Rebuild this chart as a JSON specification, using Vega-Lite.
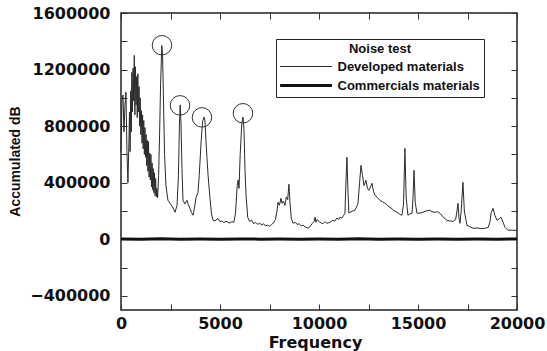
{
  "$schema": "https://vega.github.io/schema/vega-lite/v6.json",
  "width": 396,
  "height": 297,
  "autosize": "none",
  "padding": {"left": 121, "top": 13, "right": 30, "bottom": 41},
  "background": "white",
  "config": {
    "view": {"stroke": "#222", "strokeWidth": 1.5},
    "axis": {
      "grid": false,
      "domain": false,
      "labelFont": "DejaVu Sans",
      "labelFontWeight": "bold",
      "labelFontSize": 16,
      "labelColor": "#111",
      "titleFontWeight": "bold",
      "titleColor": "#111",
      "tickColor": "#333",
      "tickWidth": 1
    },
    "legend": {
      "orient": "none",
      "legendX": 155,
      "legendY": 26,
      "titleAnchor": "middle",
      "titleFont": "Liberation Sans",
      "titleFontSize": 13,
      "titleFontWeight": "bold",
      "titleColor": "#111",
      "titlePadding": 3,
      "labelFont": "Liberation Sans",
      "labelFontSize": 13,
      "labelFontWeight": "bold",
      "labelColor": "#111",
      "labelLimit": 300,
      "labelOffset": 23,
      "symbolType": "M-3.7,0H3.7",
      "symbolSize": 196,
      "symbolOffset": 17.5,
      "symbolStrokeColor": "#111",
      "rowPadding": 3,
      "padding": 4,
      "strokeColor": "#222",
      "fillColor": "white"
    }
  },
  "datasets": {
    "curves": [
      {"f": 0, "v": 620000, "series": "Developed materials"},
      {"f": 50, "v": 980000, "series": "Developed materials"},
      {"f": 100, "v": 1020000, "series": "Developed materials"},
      {"f": 150, "v": 760000, "series": "Developed materials"},
      {"f": 200, "v": 950000, "series": "Developed materials"},
      {"f": 250, "v": 1040000, "series": "Developed materials"},
      {"f": 300, "v": 620000, "series": "Developed materials"},
      {"f": 350, "v": 400000, "series": "Developed materials"},
      {"f": 400, "v": 680000, "series": "Developed materials"},
      {"f": 430, "v": 900000, "series": "Developed materials"},
      {"f": 460, "v": 620000, "series": "Developed materials"},
      {"f": 490, "v": 1050000, "series": "Developed materials"},
      {"f": 520, "v": 760000, "series": "Developed materials"},
      {"f": 550, "v": 1180000, "series": "Developed materials"},
      {"f": 580, "v": 900000, "series": "Developed materials"},
      {"f": 610, "v": 1210000, "series": "Developed materials"},
      {"f": 640, "v": 980000, "series": "Developed materials"},
      {"f": 670, "v": 1300000, "series": "Developed materials"},
      {"f": 700, "v": 880000, "series": "Developed materials"},
      {"f": 730, "v": 1220000, "series": "Developed materials"},
      {"f": 760, "v": 950000, "series": "Developed materials"},
      {"f": 790, "v": 1150000, "series": "Developed materials"},
      {"f": 820, "v": 860000, "series": "Developed materials"},
      {"f": 850, "v": 1170000, "series": "Developed materials"},
      {"f": 880, "v": 900000, "series": "Developed materials"},
      {"f": 910, "v": 1080000, "series": "Developed materials"},
      {"f": 940, "v": 800000, "series": "Developed materials"},
      {"f": 970, "v": 1000000, "series": "Developed materials"},
      {"f": 1000, "v": 740000, "series": "Developed materials"},
      {"f": 1030, "v": 910000, "series": "Developed materials"},
      {"f": 1060, "v": 680000, "series": "Developed materials"},
      {"f": 1090, "v": 880000, "series": "Developed materials"},
      {"f": 1120, "v": 640000, "series": "Developed materials"},
      {"f": 1150, "v": 840000, "series": "Developed materials"},
      {"f": 1180, "v": 600000, "series": "Developed materials"},
      {"f": 1210, "v": 790000, "series": "Developed materials"},
      {"f": 1240, "v": 580000, "series": "Developed materials"},
      {"f": 1270, "v": 740000, "series": "Developed materials"},
      {"f": 1300, "v": 520000, "series": "Developed materials"},
      {"f": 1330, "v": 700000, "series": "Developed materials"},
      {"f": 1360, "v": 480000, "series": "Developed materials"},
      {"f": 1390, "v": 690000, "series": "Developed materials"},
      {"f": 1420, "v": 440000, "series": "Developed materials"},
      {"f": 1450, "v": 610000, "series": "Developed materials"},
      {"f": 1480, "v": 420000, "series": "Developed materials"},
      {"f": 1510, "v": 600000, "series": "Developed materials"},
      {"f": 1540, "v": 370000, "series": "Developed materials"},
      {"f": 1570, "v": 540000, "series": "Developed materials"},
      {"f": 1600, "v": 350000, "series": "Developed materials"},
      {"f": 1630, "v": 500000, "series": "Developed materials"},
      {"f": 1660, "v": 330000, "series": "Developed materials"},
      {"f": 1690, "v": 470000, "series": "Developed materials"},
      {"f": 1720, "v": 310000, "series": "Developed materials"},
      {"f": 1750, "v": 430000, "series": "Developed materials"},
      {"f": 1780, "v": 300000, "series": "Developed materials"},
      {"f": 1810, "v": 360000, "series": "Developed materials"},
      {"f": 1850, "v": 295000, "series": "Developed materials"},
      {"f": 1900, "v": 450000, "series": "Developed materials"},
      {"f": 1950, "v": 750000, "series": "Developed materials"},
      {"f": 2000, "v": 1100000, "series": "Developed materials"},
      {"f": 2060, "v": 1370000, "series": "Developed materials"},
      {"f": 2100, "v": 1300000, "series": "Developed materials"},
      {"f": 2150, "v": 950000, "series": "Developed materials"},
      {"f": 2200, "v": 600000, "series": "Developed materials"},
      {"f": 2270, "v": 380000, "series": "Developed materials"},
      {"f": 2370, "v": 276000, "series": "Developed materials"},
      {"f": 2500, "v": 250000, "series": "Developed materials"},
      {"f": 2600, "v": 230000, "series": "Developed materials"},
      {"f": 2730, "v": 191000, "series": "Developed materials"},
      {"f": 2830, "v": 240000, "series": "Developed materials"},
      {"f": 2900, "v": 450000, "series": "Developed materials"},
      {"f": 2950, "v": 800000, "series": "Developed materials"},
      {"f": 2990, "v": 950000, "series": "Developed materials"},
      {"f": 3030, "v": 820000, "series": "Developed materials"},
      {"f": 3080, "v": 500000, "series": "Developed materials"},
      {"f": 3130, "v": 276000, "series": "Developed materials"},
      {"f": 3230, "v": 250000, "series": "Developed materials"},
      {"f": 3330, "v": 276000, "series": "Developed materials"},
      {"f": 3400, "v": 245000, "series": "Developed materials"},
      {"f": 3480, "v": 219000, "series": "Developed materials"},
      {"f": 3560, "v": 190000, "series": "Developed materials"},
      {"f": 3640, "v": 170000, "series": "Developed materials"},
      {"f": 3720, "v": 230000, "series": "Developed materials"},
      {"f": 3790, "v": 297000, "series": "Developed materials"},
      {"f": 3890, "v": 332000, "series": "Developed materials"},
      {"f": 3950, "v": 450000, "series": "Developed materials"},
      {"f": 4050, "v": 700000, "series": "Developed materials"},
      {"f": 4120, "v": 830000, "series": "Developed materials"},
      {"f": 4190, "v": 864000, "series": "Developed materials"},
      {"f": 4240, "v": 840000, "series": "Developed materials"},
      {"f": 4290, "v": 700000, "series": "Developed materials"},
      {"f": 4340, "v": 580000, "series": "Developed materials"},
      {"f": 4400, "v": 450000, "series": "Developed materials"},
      {"f": 4490, "v": 297000, "series": "Developed materials"},
      {"f": 4570, "v": 180000, "series": "Developed materials"},
      {"f": 4650, "v": 134000, "series": "Developed materials"},
      {"f": 4750, "v": 130000, "series": "Developed materials"},
      {"f": 4900, "v": 148000, "series": "Developed materials"},
      {"f": 5000, "v": 125000, "series": "Developed materials"},
      {"f": 5100, "v": 130000, "series": "Developed materials"},
      {"f": 5200, "v": 118000, "series": "Developed materials"},
      {"f": 5300, "v": 128000, "series": "Developed materials"},
      {"f": 5400, "v": 120000, "series": "Developed materials"},
      {"f": 5500, "v": 115000, "series": "Developed materials"},
      {"f": 5600, "v": 125000, "series": "Developed materials"},
      {"f": 5700, "v": 120000, "series": "Developed materials"},
      {"f": 5780, "v": 180000, "series": "Developed materials"},
      {"f": 5870, "v": 380000, "series": "Developed materials"},
      {"f": 5920, "v": 420000, "series": "Developed materials"},
      {"f": 5960, "v": 360000, "series": "Developed materials"},
      {"f": 6020, "v": 600000, "series": "Developed materials"},
      {"f": 6100, "v": 820000, "series": "Developed materials"},
      {"f": 6160, "v": 864000, "series": "Developed materials"},
      {"f": 6210, "v": 780000, "series": "Developed materials"},
      {"f": 6260, "v": 500000, "series": "Developed materials"},
      {"f": 6320, "v": 300000, "series": "Developed materials"},
      {"f": 6400, "v": 156000, "series": "Developed materials"},
      {"f": 6500, "v": 125000, "series": "Developed materials"},
      {"f": 6600, "v": 135000, "series": "Developed materials"},
      {"f": 6700, "v": 110000, "series": "Developed materials"},
      {"f": 6800, "v": 120000, "series": "Developed materials"},
      {"f": 6900, "v": 105000, "series": "Developed materials"},
      {"f": 7000, "v": 115000, "series": "Developed materials"},
      {"f": 7100, "v": 100000, "series": "Developed materials"},
      {"f": 7200, "v": 110000, "series": "Developed materials"},
      {"f": 7300, "v": 95000, "series": "Developed materials"},
      {"f": 7400, "v": 100000, "series": "Developed materials"},
      {"f": 7500, "v": 92000, "series": "Developed materials"},
      {"f": 7600, "v": 105000, "series": "Developed materials"},
      {"f": 7700, "v": 115000, "series": "Developed materials"},
      {"f": 7800, "v": 140000, "series": "Developed materials"},
      {"f": 7880, "v": 200000, "series": "Developed materials"},
      {"f": 7930, "v": 262000, "series": "Developed materials"},
      {"f": 8000, "v": 240000, "series": "Developed materials"},
      {"f": 8080, "v": 290000, "series": "Developed materials"},
      {"f": 8130, "v": 255000, "series": "Developed materials"},
      {"f": 8200, "v": 270000, "series": "Developed materials"},
      {"f": 8280, "v": 240000, "series": "Developed materials"},
      {"f": 8350, "v": 300000, "series": "Developed materials"},
      {"f": 8420, "v": 280000, "series": "Developed materials"},
      {"f": 8480, "v": 389000, "series": "Developed materials"},
      {"f": 8540, "v": 250000, "series": "Developed materials"},
      {"f": 8600, "v": 150000, "series": "Developed materials"},
      {"f": 8690, "v": 113000, "series": "Developed materials"},
      {"f": 8800, "v": 120000, "series": "Developed materials"},
      {"f": 8900, "v": 105000, "series": "Developed materials"},
      {"f": 9000, "v": 110000, "series": "Developed materials"},
      {"f": 9100, "v": 95000, "series": "Developed materials"},
      {"f": 9200, "v": 100000, "series": "Developed materials"},
      {"f": 9300, "v": 88000, "series": "Developed materials"},
      {"f": 9450, "v": 78000, "series": "Developed materials"},
      {"f": 9550, "v": 90000, "series": "Developed materials"},
      {"f": 9650, "v": 110000, "series": "Developed materials"},
      {"f": 9750, "v": 125000, "series": "Developed materials"},
      {"f": 9800, "v": 156000, "series": "Developed materials"},
      {"f": 9850, "v": 120000, "series": "Developed materials"},
      {"f": 9900, "v": 140000, "series": "Developed materials"},
      {"f": 10050, "v": 120000, "series": "Developed materials"},
      {"f": 10200, "v": 110000, "series": "Developed materials"},
      {"f": 10300, "v": 125000, "series": "Developed materials"},
      {"f": 10400, "v": 113000, "series": "Developed materials"},
      {"f": 10550, "v": 120000, "series": "Developed materials"},
      {"f": 10700, "v": 134000, "series": "Developed materials"},
      {"f": 10800, "v": 128000, "series": "Developed materials"},
      {"f": 10900, "v": 150000, "series": "Developed materials"},
      {"f": 11000, "v": 140000, "series": "Developed materials"},
      {"f": 11060, "v": 156000, "series": "Developed materials"},
      {"f": 11150, "v": 150000, "series": "Developed materials"},
      {"f": 11250, "v": 170000, "series": "Developed materials"},
      {"f": 11310, "v": 184000, "series": "Developed materials"},
      {"f": 11360, "v": 400000, "series": "Developed materials"},
      {"f": 11410, "v": 580000, "series": "Developed materials"},
      {"f": 11460, "v": 350000, "series": "Developed materials"},
      {"f": 11510, "v": 184000, "series": "Developed materials"},
      {"f": 11560, "v": 190000, "series": "Developed materials"},
      {"f": 11700, "v": 200000, "series": "Developed materials"},
      {"f": 11810, "v": 205000, "series": "Developed materials"},
      {"f": 11900, "v": 230000, "series": "Developed materials"},
      {"f": 11970, "v": 255000, "series": "Developed materials"},
      {"f": 12050, "v": 400000, "series": "Developed materials"},
      {"f": 12120, "v": 523000, "series": "Developed materials"},
      {"f": 12200, "v": 450000, "series": "Developed materials"},
      {"f": 12270, "v": 380000, "series": "Developed materials"},
      {"f": 12320, "v": 396000, "series": "Developed materials"},
      {"f": 12370, "v": 417000, "series": "Developed materials"},
      {"f": 12450, "v": 360000, "series": "Developed materials"},
      {"f": 12520, "v": 346000, "series": "Developed materials"},
      {"f": 12600, "v": 370000, "series": "Developed materials"},
      {"f": 12680, "v": 396000, "series": "Developed materials"},
      {"f": 12750, "v": 340000, "series": "Developed materials"},
      {"f": 12830, "v": 311000, "series": "Developed materials"},
      {"f": 12950, "v": 295000, "series": "Developed materials"},
      {"f": 13080, "v": 276000, "series": "Developed materials"},
      {"f": 13200, "v": 265000, "series": "Developed materials"},
      {"f": 13330, "v": 255000, "series": "Developed materials"},
      {"f": 13450, "v": 240000, "series": "Developed materials"},
      {"f": 13580, "v": 226000, "series": "Developed materials"},
      {"f": 13700, "v": 215000, "series": "Developed materials"},
      {"f": 13800, "v": 200000, "series": "Developed materials"},
      {"f": 13940, "v": 191000, "series": "Developed materials"},
      {"f": 14100, "v": 175000, "series": "Developed materials"},
      {"f": 14190, "v": 170000, "series": "Developed materials"},
      {"f": 14270, "v": 250000, "series": "Developed materials"},
      {"f": 14340, "v": 643000, "series": "Developed materials"},
      {"f": 14400, "v": 300000, "series": "Developed materials"},
      {"f": 14490, "v": 170000, "series": "Developed materials"},
      {"f": 14600, "v": 180000, "series": "Developed materials"},
      {"f": 14700, "v": 184000, "series": "Developed materials"},
      {"f": 14750, "v": 300000, "series": "Developed materials"},
      {"f": 14800, "v": 488000, "series": "Developed materials"},
      {"f": 14860, "v": 260000, "series": "Developed materials"},
      {"f": 14950, "v": 184000, "series": "Developed materials"},
      {"f": 15100, "v": 185000, "series": "Developed materials"},
      {"f": 15250, "v": 191000, "series": "Developed materials"},
      {"f": 15400, "v": 200000, "series": "Developed materials"},
      {"f": 15600, "v": 205000, "series": "Developed materials"},
      {"f": 15700, "v": 195000, "series": "Developed materials"},
      {"f": 15860, "v": 191000, "series": "Developed materials"},
      {"f": 16000, "v": 195000, "series": "Developed materials"},
      {"f": 16110, "v": 184000, "series": "Developed materials"},
      {"f": 16250, "v": 160000, "series": "Developed materials"},
      {"f": 16460, "v": 134000, "series": "Developed materials"},
      {"f": 16600, "v": 130000, "series": "Developed materials"},
      {"f": 16770, "v": 127000, "series": "Developed materials"},
      {"f": 16900, "v": 140000, "series": "Developed materials"},
      {"f": 16970, "v": 200000, "series": "Developed materials"},
      {"f": 17020, "v": 255000, "series": "Developed materials"},
      {"f": 17070, "v": 150000, "series": "Developed materials"},
      {"f": 17120, "v": 113000, "series": "Developed materials"},
      {"f": 17180, "v": 200000, "series": "Developed materials"},
      {"f": 17270, "v": 403000, "series": "Developed materials"},
      {"f": 17340, "v": 200000, "series": "Developed materials"},
      {"f": 17470, "v": 99000, "series": "Developed materials"},
      {"f": 17600, "v": 90000, "series": "Developed materials"},
      {"f": 17780, "v": 78000, "series": "Developed materials"},
      {"f": 18000, "v": 80000, "series": "Developed materials"},
      {"f": 18200, "v": 75000, "series": "Developed materials"},
      {"f": 18400, "v": 78000, "series": "Developed materials"},
      {"f": 18550, "v": 85000, "series": "Developed materials"},
      {"f": 18630, "v": 120000, "series": "Developed materials"},
      {"f": 18700, "v": 190000, "series": "Developed materials"},
      {"f": 18790, "v": 219000, "series": "Developed materials"},
      {"f": 18880, "v": 170000, "series": "Developed materials"},
      {"f": 18990, "v": 134000, "series": "Developed materials"},
      {"f": 19100, "v": 145000, "series": "Developed materials"},
      {"f": 19190, "v": 156000, "series": "Developed materials"},
      {"f": 19300, "v": 120000, "series": "Developed materials"},
      {"f": 19390, "v": 85000, "series": "Developed materials"},
      {"f": 19540, "v": 64000, "series": "Developed materials"},
      {"f": 19800, "v": 64000, "series": "Developed materials"},
      {"f": 20000, "v": 62000, "series": "Developed materials"},
      {"f": 0, "v": 2000, "series": "Commercials materials"},
      {"f": 1000, "v": 0, "series": "Commercials materials"},
      {"f": 2000, "v": 3000, "series": "Commercials materials"},
      {"f": 3000, "v": 1000, "series": "Commercials materials"},
      {"f": 4000, "v": 2000, "series": "Commercials materials"},
      {"f": 5000, "v": 0, "series": "Commercials materials"},
      {"f": 6000, "v": 2000, "series": "Commercials materials"},
      {"f": 7000, "v": 1000, "series": "Commercials materials"},
      {"f": 8000, "v": 2000, "series": "Commercials materials"},
      {"f": 9000, "v": 0, "series": "Commercials materials"},
      {"f": 10000, "v": 2000, "series": "Commercials materials"},
      {"f": 11000, "v": 1000, "series": "Commercials materials"},
      {"f": 12000, "v": 3000, "series": "Commercials materials"},
      {"f": 13000, "v": 1000, "series": "Commercials materials"},
      {"f": 14000, "v": 2000, "series": "Commercials materials"},
      {"f": 15000, "v": 1000, "series": "Commercials materials"},
      {"f": 16000, "v": 2000, "series": "Commercials materials"},
      {"f": 17000, "v": 1000, "series": "Commercials materials"},
      {"f": 18000, "v": 2000, "series": "Commercials materials"},
      {"f": 19000, "v": 1000, "series": "Commercials materials"},
      {"f": 20000, "v": 2000, "series": "Commercials materials"}
    ],
    "circles": [
      {"f": 2070, "v": 1372000},
      {"f": 2980, "v": 947000},
      {"f": 4090, "v": 862000},
      {"f": 6160, "v": 891000}
    ]
  },
  "layer": [
    {
      "data": {"name": "curves"},
      "mark": {"type": "line", "interpolate": "linear"},
      "encoding": {
        "x": {
          "field": "f", "type": "quantitative",
          "scale": {"domain": [0, 20000], "nice": false, "zero": false},
          "axis": {
            "orient": "bottom",
            "values": [0, 2500, 5000, 7500, 10000, 12500, 15000, 17500, 20000],
            "labelExpr": "datum.value % 5000 == 0 ? format(datum.value, 'd') : ''",
            "tickSize": -6,
            "labelPadding": 11,
            "labelFlush": false,
            "labelOverlap": false,
            "title": "Frequency",
            "titleFont": "DejaVu Sans",
            "titleFontSize": 16,
            "titleX": 194,
            "titleY": 37,
            "titleBaseline": "alphabetic",
            "titleAlign": "center"
          }
        },
        "y": {
          "field": "v", "type": "quantitative",
          "scale": {"domain": [-500000, 1600000], "nice": false, "zero": false},
          "axis": {
            "orient": "left",
            "values": [-400000, -200000, 0, 200000, 400000, 600000, 800000, 1000000, 1200000, 1400000, 1600000],
            "labelExpr": "datum.value % 400000 == 0 ? format(datum.value, 'd') : ''",
            "tickSize": -6,
            "labelPadding": 17,
            "labelFlush": false,
            "labelOverlap": false,
            "title": "Accumulated dB",
            "titleFont": "Liberation Sans",
            "titleFontSize": 14,
            "titleX": -106,
            "titleY": 148,
            "titleAngle": 270,
            "titleAlign": "center",
            "titleBaseline": "middle"
          }
        },
        "color": {
          "field": "series", "type": "nominal",
          "scale": {"domain": ["Developed materials", "Commercials materials"], "range": ["#2a2a2a", "#111111"]},
          "legend": {"title": "Noise test"}
        },
        "strokeWidth": {
          "field": "series", "type": "nominal",
          "scale": {"domain": ["Developed materials", "Commercials materials"], "range": [1, 3]},
          "legend": {"title": "Noise test"}
        }
      }
    },
    {
      "data": {"name": "circles"},
      "mark": {"type": "point", "shape": "circle", "filled": false, "size": 380, "stroke": "#333", "strokeWidth": 1, "opacity": 1},
      "encoding": {
        "x": {
          "field": "f", "type": "quantitative",
          "axis": {
            "orient": "top",
            "values": [0, 2500, 5000, 7500, 10000, 12500, 15000, 17500, 20000],
            "labels": false,
            "tickSize": -6,
            "title": null
          }
        },
        "y": {
          "field": "v", "type": "quantitative",
          "axis": {
            "orient": "right",
            "values": [-400000, -200000, 0, 200000, 400000, 600000, 800000, 1000000, 1200000, 1400000, 1600000],
            "labels": false,
            "tickSize": -6,
            "title": null
          }
        }
      }
    }
  ],
  "resolve": {"axis": {"x": "independent", "y": "independent"}}
}
